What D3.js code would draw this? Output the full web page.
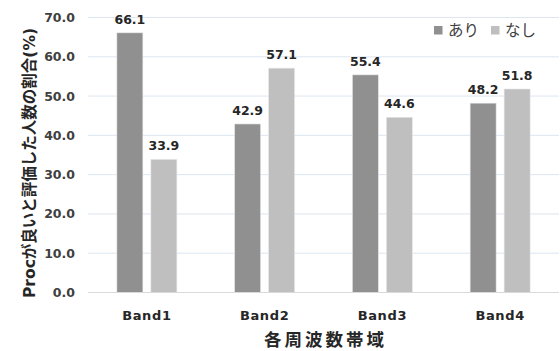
<!DOCTYPE html>
<html><head><meta charset="utf-8">
<script src="https://cdn.jsdelivr.net/npm/d3@7"></script>
<style>
body{margin:0;background:#fff;}
text{font-family:"DejaVu Sans","Noto Sans CJK JP",sans-serif;}
</style></head>
<body>
<svg id="chart" width="560" height="351"></svg>
<script>
const categories = ["Band1","Band2","Band3","Band4"];
const seriesNames = ["あり","なし"];
const ari  = [66.1, 42.9, 55.4, 48.2];
const nashi = [33.9, 57.1, 44.6, 51.8];
const yTicks = [0,10,20,30,40,50,60,70];
const yTitle = "Procが良いと評価した人数の割合(%)";
const xTitle = "各周波数帯域";
const colors = ["#909090","#bfbfbf"];

const svg = d3.select("#chart");
const pL = 88, pR = 559, pT = 17.5, pB = 292.5;

const x = d3.scaleBand().domain(categories).range([pL, pR]);
const sub = d3.scaleOrdinal().domain(seriesNames).range([-30, 4]);
const y = d3.scaleLinear().domain([0,70]).range([pB, pT]);

// gridlines
svg.append("g").selectAll("line").data(yTicks.filter(d=>d>0)).join("line")
  .attr("x1", pL).attr("x2", pR)
  .attr("y1", d=>y(d)).attr("y2", d=>y(d))
  .attr("stroke", "#dce6f0").attr("stroke-width", 1);

// y axis labels
const yAxis = d3.axisLeft(y).tickValues(yTicks).tickFormat(d3.format(".1f")).tickSize(0).tickPadding(0);
const ya = svg.append("g").attr("transform", `translate(75,0)`).call(yAxis);
ya.select(".domain").remove();
ya.selectAll("text").attr("font-size", 12.5).attr("font-weight","bold").attr("fill","#404040")
  .attr("font-family","DejaVu Sans");

const data = categories.map((c,i)=>({c, vals:[{s:seriesNames[0],v:ari[i]},{s:seriesNames[1],v:nashi[i]}]}));
const barW = 26;
const g = svg.append("g");
data.forEach(d=>{
  const cx = x(d.c) + x.bandwidth()/2;
  d.vals.forEach((p,j)=>{
    g.append("rect")
      .attr("x", cx + sub(p.s)).attr("width", barW)
      .attr("y", y(p.v)).attr("height", y(0)-y(p.v))
      .attr("fill", colors[j]).attr("stroke","#e8e8e8").attr("stroke-width",0.6);
    g.append("text")
      .attr("x", cx + sub(p.s) + barW/2).attr("y", y(p.v) - 9)
      .attr("text-anchor","middle").attr("font-size",12.5).attr("font-weight","bold")
      .attr("fill","#262626").text(d3.format(".1f")(p.v));
  });
});

// baseline
svg.append("line").attr("x1", pL).attr("x2", pR).attr("y1", y(0)).attr("y2", y(0))
  .attr("stroke","#d9d9d9").attr("stroke-width",1.2);

// x axis labels
const xAxis = d3.axisBottom(x).tickSize(0).tickPadding(0);
const xa = svg.append("g").attr("transform", `translate(0,${y(0)+27.5})`).call(xAxis);
xa.select(".domain").remove();
xa.selectAll("text").attr("font-size",13).attr("font-weight","bold").attr("fill","#262626")
  .attr("dy", 0).attr("letter-spacing", 0.6).attr("font-family","DejaVu Sans");

// x title
svg.append("text").attr("x", (pL+pR)/2 + 2).attr("y", 346)
  .attr("text-anchor","middle").attr("font-size",17.5).attr("font-weight","bold")
  .attr("letter-spacing", 3)
  .attr("fill","#262626").attr("font-family","Noto Sans CJK JP").text(xTitle);

// y title
svg.append("text").attr("transform", `translate(35,163) rotate(-90)`)
  .attr("text-anchor","middle").attr("font-size",15.5).attr("font-weight","bold")
  .attr("fill","#262626").text(yTitle);

// legend
const lg = svg.append("g");
const lx = [434, 491];
seriesNames.forEach((s,i)=>{
  lg.append("rect").attr("x", lx[i]).attr("y", 26).attr("width", 8.5).attr("height", 8.5).attr("fill", colors[i]);
  lg.append("text").attr("x", lx[i]+14).attr("y", 36).attr("font-size",15.5)
    .attr("fill","#404040").attr("font-family","Noto Sans CJK JP").text(s);
});
</script>
</body></html>
